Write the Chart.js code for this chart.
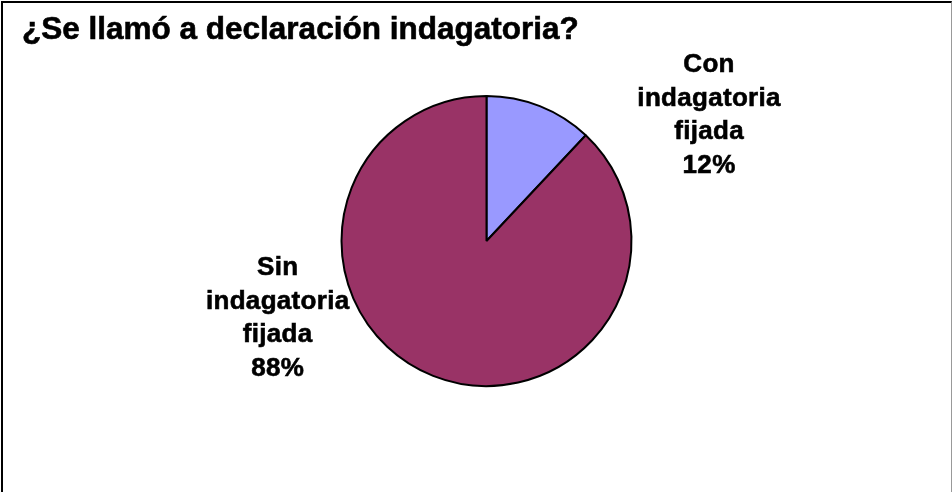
<!DOCTYPE html>
<html>
<head>
<meta charset="utf-8">
<script src="https://cdn.jsdelivr.net/npm/chart.js@4"></script>
<style>
html,body{margin:0;padding:0;background:#fff;}
#wrap{position:relative;width:952px;height:492px;overflow:hidden;}
#frame{position:absolute;left:1px;top:1px;width:948px;height:520px;border-left:2px solid #000;border-top:2px solid #000;border-right:1px solid #999;pointer-events:none;}
</style>
</head>
<body>
<div id="wrap">
<canvas id="c" width="952" height="492"></canvas>
<div id="frame"></div>
</div>
<script>
const title = "¿Se llamó a declaración indagatoria?";
const categories = ["Con indagatoria fijada", "Sin indagatoria fijada"];
const labelLines = [["Con", "indagatoria", "fijada"], ["Sin", "indagatoria", "fijada"]];
const values = [12, 88];
const colors = ["#9999FF", "#993366"];

const labelPlugin = {
  id: 'sliceLabels',
  afterDatasetsDraw(chart) {
    const ctx = chart.ctx;
    const meta = chart.getDatasetMeta(0);
    const total = values.reduce((a, b) => a + b, 0);
    // label anchor offsets in units of radius (center of text block)
    const offs = [[1.535, -0.88], [-1.44, 0.52]];
    ctx.save();
    ctx.fillStyle = '#000';
    ctx.strokeStyle = '#000';
    ctx.lineWidth = 0.6;
    ctx.font = 'bold 26px "Liberation Sans", Arial, sans-serif';
    ctx.letterSpacing = '0.3px';
    ctx.textAlign = 'center';
    ctx.textBaseline = 'alphabetic';
    meta.data.forEach((arc, i) => {
      const r = arc.outerRadius;
      const cx = arc.x + offs[i][0] * r;
      const cy = arc.y + offs[i][1] * r;
      const lines = labelLines[i].concat([Math.round(values[i] / total * 100) + '%']);
      const lh = 33.5;
      const firstBase = cy - (lines.length - 1) * lh / 2 + 9;
      lines.forEach((t, k) => {
        ctx.fillText(t, cx, firstBase + k * lh);
        ctx.strokeText(t, cx, firstBase + k * lh);
      });
    });
    ctx.restore();

    ctx.save();
    ctx.fillStyle = '#000';
    ctx.strokeStyle = '#000';
    ctx.lineWidth = 0.6;
    ctx.font = 'bold 31.5px "Liberation Sans", Arial, sans-serif';
    ctx.textAlign = 'left';
    ctx.textBaseline = 'alphabetic';
    ctx.fillText(title, 22, 39);
    ctx.strokeText(title, 22, 39);
    ctx.restore();
  }
};

new Chart(document.getElementById('c'), {
  type: 'pie',
  data: {
    labels: categories,
    datasets: [{
      data: values,
      backgroundColor: colors,
      borderColor: '#000',
      borderWidth: 2,
      borderAlign: 'center'
    }]
  },
  options: {
    responsive: false,
    animation: false,
    layout: { padding: { top: 95, bottom: 105, left: 300, right: 279 } },
    plugins: {
      legend: { display: false },
      tooltip: { enabled: false },
      title: { display: false }
    }
  },
  plugins: [labelPlugin]
});
</script>
</body>
</html>
